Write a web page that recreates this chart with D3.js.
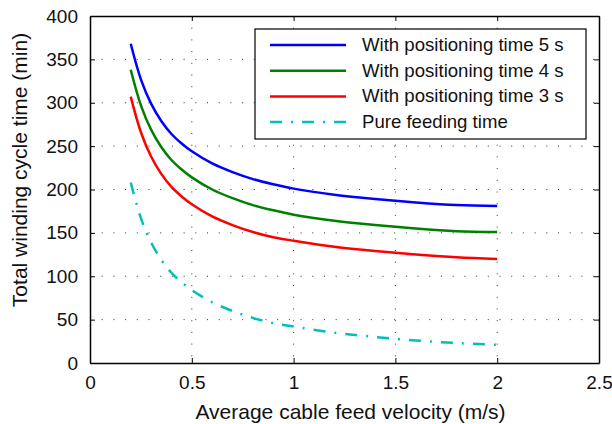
<!DOCTYPE html>
<html>
<head>
<meta charset="utf-8">
<script src="https://cdn.jsdelivr.net/npm/d3@7"></script>
<style>
  body { margin: 0; background: #fff; }
  text { font-family: "Liberation Sans", Arial, sans-serif; fill: #111; }
</style>
</head>
<body>
<div id="container"></div>
<script>
var velocity = [0.2, 0.25, 0.3, 0.35, 0.4, 0.45, 0.5, 0.6, 0.7, 0.8, 0.9, 1.0, 1.2, 1.4, 1.6, 1.8, 2.0];

// total winding cycle time (min)
var pos5s = [368, 327, 299, 279, 264, 253, 244, 230, 220, 212, 206, 201, 194, 189, 185, 182, 181];
var pos4s = [338, 297, 269, 249, 234, 223, 214, 200, 190, 182, 176, 171, 164, 159, 155, 152, 151];
var pos3s = [307, 266, 238, 218, 203, 192, 183, 169, 159, 151, 145, 141, 134, 129, 125, 122, 120];
var pureFeed = [208, 167, 139, 119, 104, 93, 84, 70, 60, 52, 46, 42, 35, 30, 26, 23, 21];

var xTicks = [0, 0.5, 1, 1.5, 2, 2.5];
var yTicks = [0, 50, 100, 150, 200, 250, 300, 350, 400];

var series = [
  { name: "With positioning time 5 s", values: pos5s, color: "#0000ff", dash: null },
  { name: "With positioning time 4 s", values: pos4s, color: "#008000", dash: null },
  { name: "With positioning time 3 s", values: pos3s, color: "#ff0000", dash: null },
  { name: "Pure feeding time", values: pureFeed, color: "#00bfbf", dash: "12,9,2,9" }
];

var width = 612, height = 424;
var margin = { left: 90, top: 16, right: 13, bottom: 61 };
var plotW = width - margin.left - margin.right;
var plotH = height - margin.top - margin.bottom;

var svg = d3.select("#container").append("svg")
  .attr("width", width)
  .attr("height", height);

var x = d3.scaleLinear().domain([0, 2.5]).range([0, plotW]);
var y = d3.scaleLinear().domain([0, 400]).range([plotH, 0]);

var g = svg.append("g").attr("transform", "translate(" + margin.left + "," + margin.top + ")");

// dotted grid
g.selectAll(".gx").data(xTicks.slice(1, -1)).enter().append("line")
  .attr("x1", function(d){ return x(d); }).attr("x2", function(d){ return x(d); })
  .attr("y1", 0).attr("y2", plotH)
  .style("stroke", "#333").style("stroke-width", 1).style("stroke-dasharray", "1,10.7");
g.selectAll(".gy").data(yTicks.slice(1, -1)).enter().append("line")
  .attr("x1", 0).attr("x2", plotW)
  .attr("y1", function(d){ return y(d); }).attr("y2", function(d){ return y(d); })
  .style("stroke", "#333").style("stroke-width", 1).style("stroke-dasharray", "1,10.7");

// axes, ticks inward on all four sides
g.append("g").attr("transform", "translate(0," + plotH + ")")
  .call(d3.axisBottom(x).tickValues(xTicks).tickSizeInner(-5).tickSizeOuter(0).tickPadding(13)
    .tickFormat(function(d){ return d3.format("")(d); }));
g.append("g")
  .call(d3.axisLeft(y).tickValues(yTicks).tickSizeInner(-5).tickSizeOuter(0).tickPadding(12));
g.append("g")
  .call(d3.axisTop(x).tickValues(xTicks).tickSizeInner(-5).tickSizeOuter(0).tickFormat(""));
g.append("g").attr("transform", "translate(" + plotW + ",0)")
  .call(d3.axisRight(y).tickValues(yTicks).tickSizeInner(-5).tickSizeOuter(0).tickFormat(""));

g.selectAll(".domain").style("stroke", "#000").style("stroke-width", 1.5);
g.selectAll(".tick line").style("stroke", "#000");
g.selectAll(".tick text").style("font-size", "19px").style("fill", "#111");

// curves
var line = d3.line()
  .x(function(d, i){ return x(velocity[i]); })
  .y(function(d){ return y(d); })
  .curve(d3.curveCatmullRom.alpha(0.5));

g.selectAll(".series").data(series).enter().append("path")
  .attr("d", function(d){ return line(d.values); })
  .style("fill", "none")
  .style("stroke", function(d){ return d.color; })
  .style("stroke-width", 2.5)
  .style("stroke-dasharray", function(d){ return d.dash; });

// legend
var lg = svg.append("g").attr("transform", "translate(255,29)");
lg.append("rect").attr("width", 331).attr("height", 110)
  .style("fill", "#fff").style("stroke", "#000").style("stroke-width", 1.2);
var rows = lg.selectAll(".row").data(series).enter().append("g")
  .attr("transform", function(d, i){ return "translate(0," + (16 + i * 25.7) + ")"; });
rows.append("line").attr("x1", 15).attr("x2", 91).attr("y1", 0).attr("y2", 0)
  .style("stroke", function(d){ return d.color; })
  .style("stroke-width", 2.5)
  .style("stroke-dasharray", function(d){ return d.dash; });
rows.append("text").attr("x", 107).attr("y", 6)
  .style("font-size", "18.6px")
  .text(function(d){ return d.name; });

// axis titles
svg.append("text")
  .attr("x", margin.left + plotW * 0.5 + 6).attr("y", 419)
  .attr("text-anchor", "middle").style("font-size", "21px")
  .text("Average cable feed velocity (m/s)");
svg.append("text")
  .attr("transform", "translate(27,170) rotate(-90)")
  .attr("text-anchor", "middle").style("font-size", "21px")
  .text("Total winding cycle time (min)");
</script>
</body>
</html>
